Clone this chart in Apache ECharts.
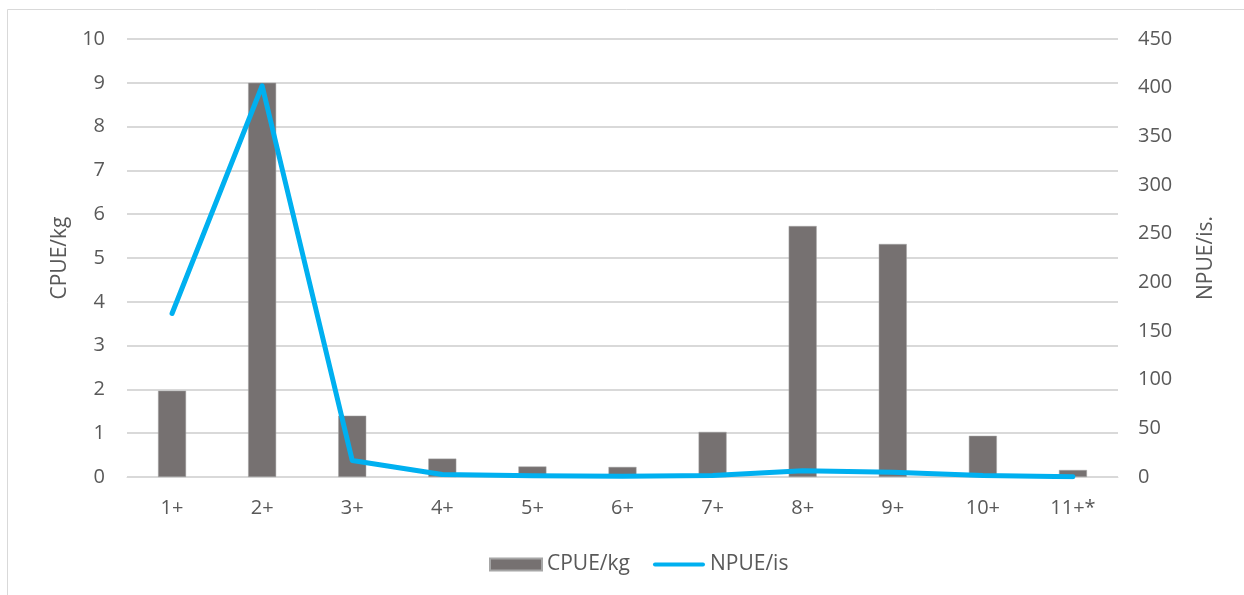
<!DOCTYPE html>
<html>
<head>
<meta charset="utf-8">
<script src="https://cdn.jsdelivr.net/npm/echarts@6/dist/echarts.min.js"></script>
<style>
  html, body { margin: 0; padding: 0; background: #fff; }
  #chart { width: 1244px; height: 595px; }
</style>
</head>
<body>
<div id="chart"></div>
<script>
// Age classes and catch-per-unit-effort values
const categories = ['1+', '2+', '3+', '4+', '5+', '6+', '7+', '8+', '9+', '10+', '11+*'];
const cpueKg = [1.97, 9.0, 1.40, 0.42, 0.24, 0.23, 1.03, 5.73, 5.32, 0.94, 0.16];
const npueIs = [168, 402, 17, 2.5, 1.2, 0.8, 1.5, 6.5, 5, 1.5, 0.3];
const leftTicks = { min: 0, max: 10, interval: 1 };
const rightTicks = { min: 0, max: 450, interval: 50 };

const fontFamily = '"Open Sans", "Liberation Sans", sans-serif';
const textColor = '#595959';

const chart = echarts.init(document.getElementById('chart'), null, { renderer: 'canvas' });

chart.setOption({
  backgroundColor: '#fff',
  animation: false,
  textStyle: { fontFamily: fontFamily },
  graphic: [{
    type: 'rect',
    shape: { x: 7.5, y: 9.5, width: 1240, height: 600 },
    style: { fill: 'none', stroke: '#d9d9d9', lineWidth: 1 },
    silent: true
  }],
  grid: { left: 127, right: 126, top: 39, bottom: 118, containLabel: false },
  legend: {
    bottom: 15,
    left: 484,
    itemGap: 23,
    itemWidth: 52,
    itemHeight: 12,
    textStyle: { color: textColor, fontSize: 21, fontFamily: fontFamily },
    data: [
      { name: 'CPUE/kg', icon: 'rect' },
      { name: 'NPUE/is', icon: 'path://M2,4 L50,4 A2,2 0 0 1 50,8 L2,8 A2,2 0 0 1 2,4 Z' }
    ]
  },
  xAxis: {
    type: 'category',
    data: categories,
    axisLine: { show: true, lineStyle: { color: '#d9d9d9', width: 1 } },
    axisTick: { show: false },
    axisLabel: { color: textColor, fontSize: 20, margin: 21 }
  },
  yAxis: [
    {
      type: 'value',
      name: 'CPUE/kg',
      nameLocation: 'middle',
      nameGap: 56,
      nameRotate: 90,
      nameTextStyle: { color: textColor, fontSize: 21 },
      min: leftTicks.min, max: leftTicks.max, interval: leftTicks.interval,
      axisLine: { show: false },
      axisTick: { show: false },
      axisLabel: { color: textColor, fontSize: 20, margin: 22 },
      splitLine: { lineStyle: { color: '#d9d9d9', width: 2 } }
    },
    {
      type: 'value',
      name: 'NPUE/is.',
      nameLocation: 'middle',
      nameGap: 78,
      nameRotate: 90,
      nameTextStyle: { color: textColor, fontSize: 21 },
      min: rightTicks.min, max: rightTicks.max, interval: rightTicks.interval,
      axisLine: { show: false },
      axisTick: { show: false },
      axisLabel: { color: textColor, fontSize: 20, margin: 20 },
      splitLine: { show: false }
    }
  ],
  series: [
    {
      name: 'CPUE/kg',
      type: 'bar',
      yAxisIndex: 0,
      data: cpueKg,
      barWidth: 28,
      itemStyle: { color: '#767171', borderColor: '#a6a6a6', borderWidth: 0.5 }
    },
    {
      name: 'NPUE/is',
      type: 'line',
      yAxisIndex: 1,
      data: npueIs,
      symbol: 'none',
      lineStyle: { color: '#00B0F0', width: 5, cap: 'round', join: 'round' },
      itemStyle: { color: '#00B0F0' }
    }
  ]
});
</script>
</body>
</html>
